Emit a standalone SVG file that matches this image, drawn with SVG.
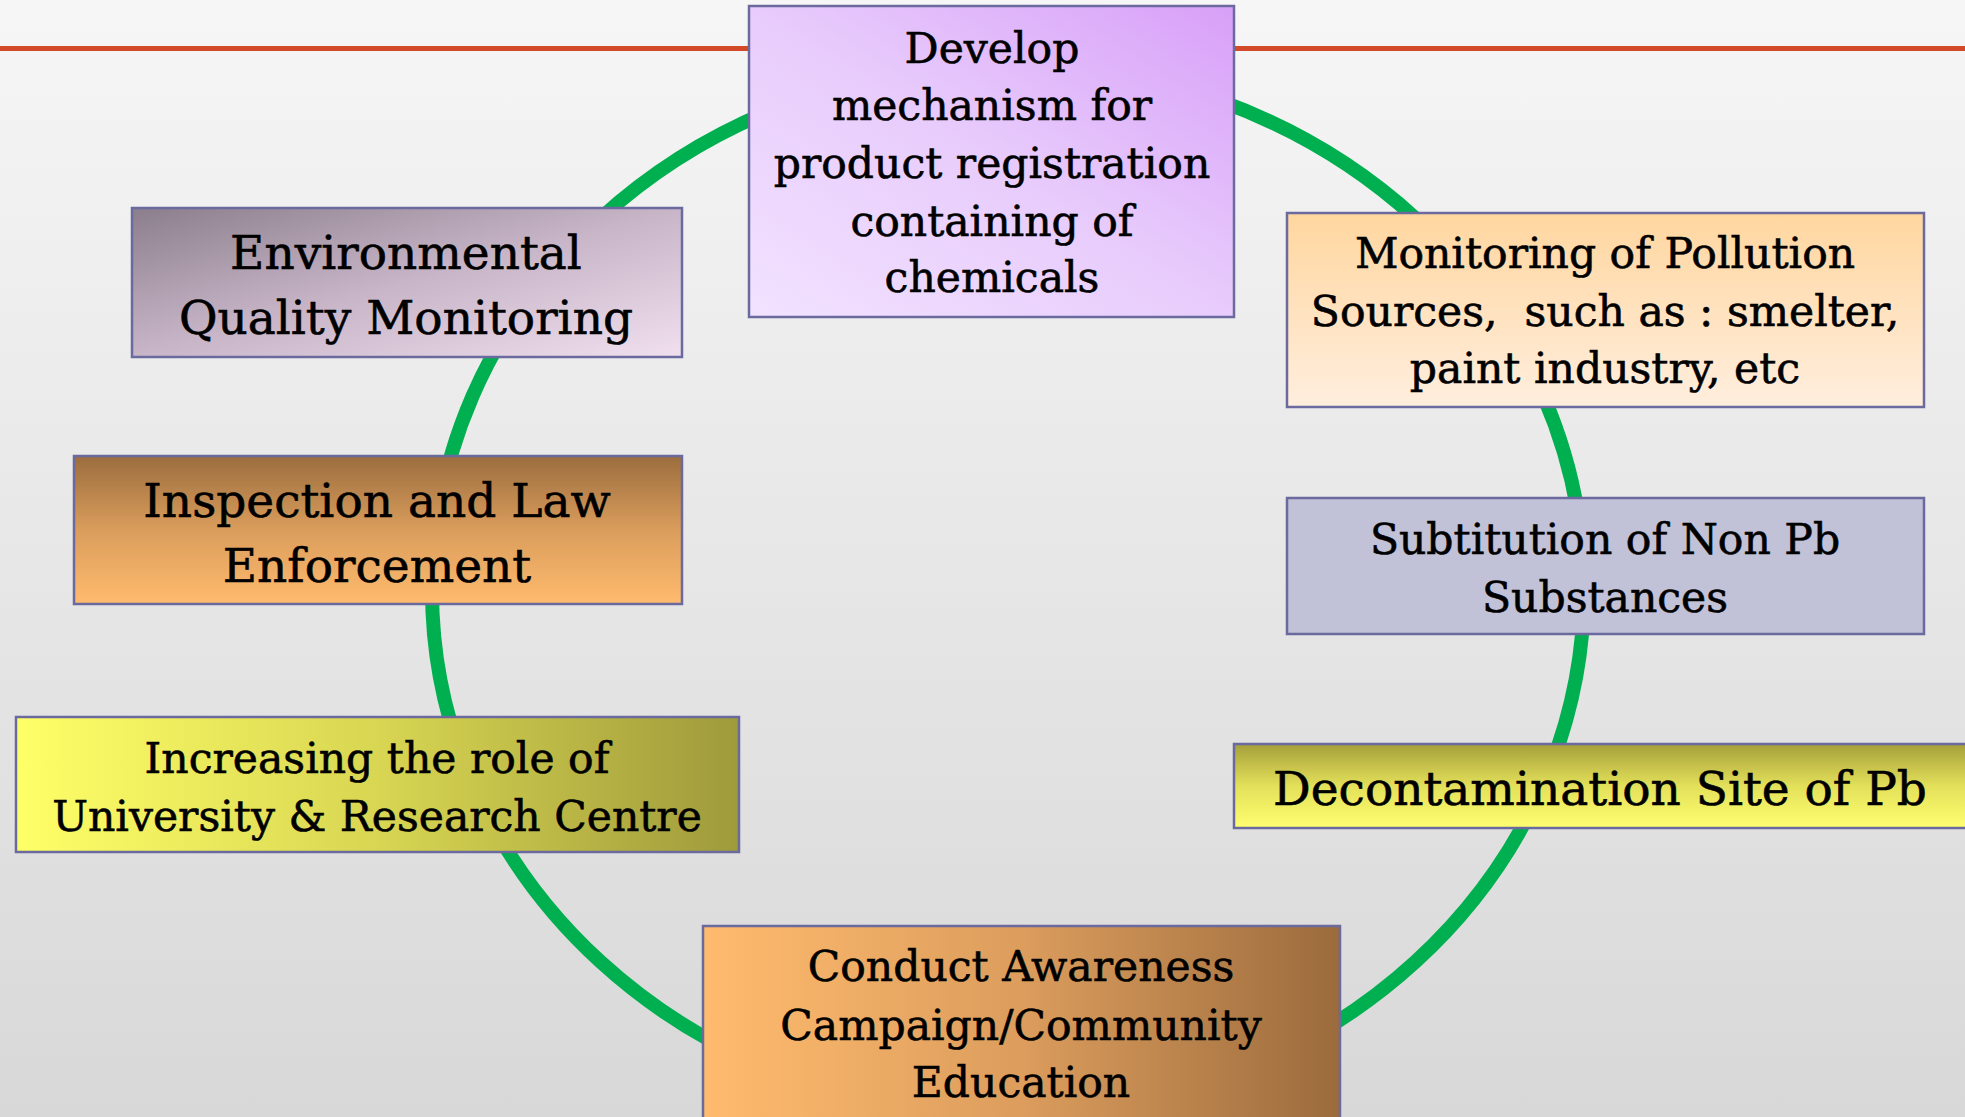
<svg xmlns="http://www.w3.org/2000/svg" width="1965" height="1117" viewBox="0 0 1965 1117">
<defs>
<linearGradient id="bg" x1="0" y1="0" x2="0" y2="1"><stop offset="0" stop-color="#F6F6F6"/><stop offset="1" stop-color="#D8D8D8"/></linearGradient>
<linearGradient id="gDev" x1="0" y1="1" x2="1" y2="0"><stop offset="0" stop-color="#F2E2FF"/><stop offset="0.5" stop-color="#E8CCFC"/><stop offset="1" stop-color="#D8A0F8"/></linearGradient>
<linearGradient id="gEnv" x1="0" y1="0" x2="1" y2="1"><stop offset="0" stop-color="#8B7E8C"/><stop offset="0.5" stop-color="#C8B6C8"/><stop offset="1" stop-color="#F0DFEF"/></linearGradient>
<linearGradient id="gMon" x1="0" y1="0" x2="0" y2="1"><stop offset="0" stop-color="#FFD69F"/><stop offset="1" stop-color="#FFEEDE"/></linearGradient>
<linearGradient id="gIns" x1="0" y1="0" x2="0" y2="1"><stop offset="0" stop-color="#9B6D3E"/><stop offset="0.5" stop-color="#DA9D5C"/><stop offset="1" stop-color="#FFBB6E"/></linearGradient>
<linearGradient id="gInc" x1="0" y1="0" x2="1" y2="0"><stop offset="0" stop-color="#FFFF68"/><stop offset="0.5" stop-color="#D8D652"/><stop offset="1" stop-color="#9F9A3B"/></linearGradient>
<linearGradient id="gDec" x1="0" y1="0" x2="0" y2="1"><stop offset="0" stop-color="#A5A03A"/><stop offset="0.5" stop-color="#E3E05A"/><stop offset="1" stop-color="#FFFF70"/></linearGradient>
<linearGradient id="gCon" x1="0" y1="0" x2="1" y2="0"><stop offset="0" stop-color="#FFBB6E"/><stop offset="0.5" stop-color="#DC9D5D"/><stop offset="1" stop-color="#9B6B3D"/></linearGradient>
<style>
.box{stroke:#6A6A9E;stroke-width:2.5}
.t{font-family:"DejaVu Serif","Liberation Serif",serif;fill:#000;stroke:#000;stroke-width:0.6;text-anchor:middle;white-space:pre}
.s{font-size:42.5px}
.b{font-size:47px}
</style>
</defs>
<rect x="0" y="0" width="1965" height="1117" fill="url(#bg)"/>
<line x1="0" y1="48.5" x2="1965" y2="48.5" stroke="#D34A2B" stroke-width="5"/>
<g id="connectors">
<ellipse cx="1008" cy="590" rx="576" ry="526" fill="none" stroke="#00B050" stroke-width="14"/>
</g>
<g id="node-develop">
<rect class="box" x="749" y="6" width="485" height="311" fill="url(#gDev)"/>
<text class="t s" x="992"><tspan x="992" y="63">Develop</tspan><tspan x="992" y="120">mechanism for</tspan><tspan x="992" y="178">product registration</tspan><tspan x="992" y="236">containing of</tspan><tspan x="992" y="292">chemicals</tspan></text>
</g>
<g id="node-environmental">
<rect class="box" x="132" y="208" width="550" height="149" fill="url(#gEnv)"/>
<text class="t b"><tspan x="406" y="269">Environmental</tspan><tspan x="406" y="334">Quality Monitoring</tspan></text>
</g>
<g id="node-monitoring">
<rect class="box" x="1287" y="213" width="637" height="194" fill="url(#gMon)"/>
<text class="t s"><tspan x="1605" y="268">Monitoring of Pollution</tspan><tspan x="1605" y="326">Sources,  such as : smelter,</tspan><tspan x="1605" y="383">paint industry, etc</tspan></text>
</g>
<g id="node-inspection">
<rect class="box" x="74" y="456" width="608" height="148" fill="url(#gIns)"/>
<text class="t b"><tspan x="377" y="517">Inspection and Law</tspan><tspan x="377" y="582">Enforcement</tspan></text>
</g>
<g id="node-subtitution">
<rect class="box" x="1287" y="498" width="637" height="136" fill="#C1C1D7"/>
<text class="t s"><tspan x="1605" y="554">Subtitution of Non Pb</tspan><tspan x="1605" y="612">Substances</tspan></text>
</g>
<g id="node-increasing">
<rect class="box" x="16" y="717" width="723" height="135" fill="url(#gInc)"/>
<text class="t s"><tspan x="377" y="773">Increasing the role of</tspan><tspan x="377" y="831">University &amp; Research Centre</tspan></text>
</g>
<g id="node-decontamination">
<rect class="box" x="1234" y="744" width="740" height="84" fill="url(#gDec)"/>
<text class="t b" x="1600" y="805">Decontamination Site of Pb</text>
</g>
<g id="node-conduct">
<rect class="box" x="703" y="926" width="637" height="210" fill="url(#gCon)"/>
<text class="t s"><tspan x="1021" y="981">Conduct Awareness</tspan><tspan x="1021" y="1040">Campaign/Community</tspan><tspan x="1021" y="1097">Education</tspan></text>
</g>
</svg>
